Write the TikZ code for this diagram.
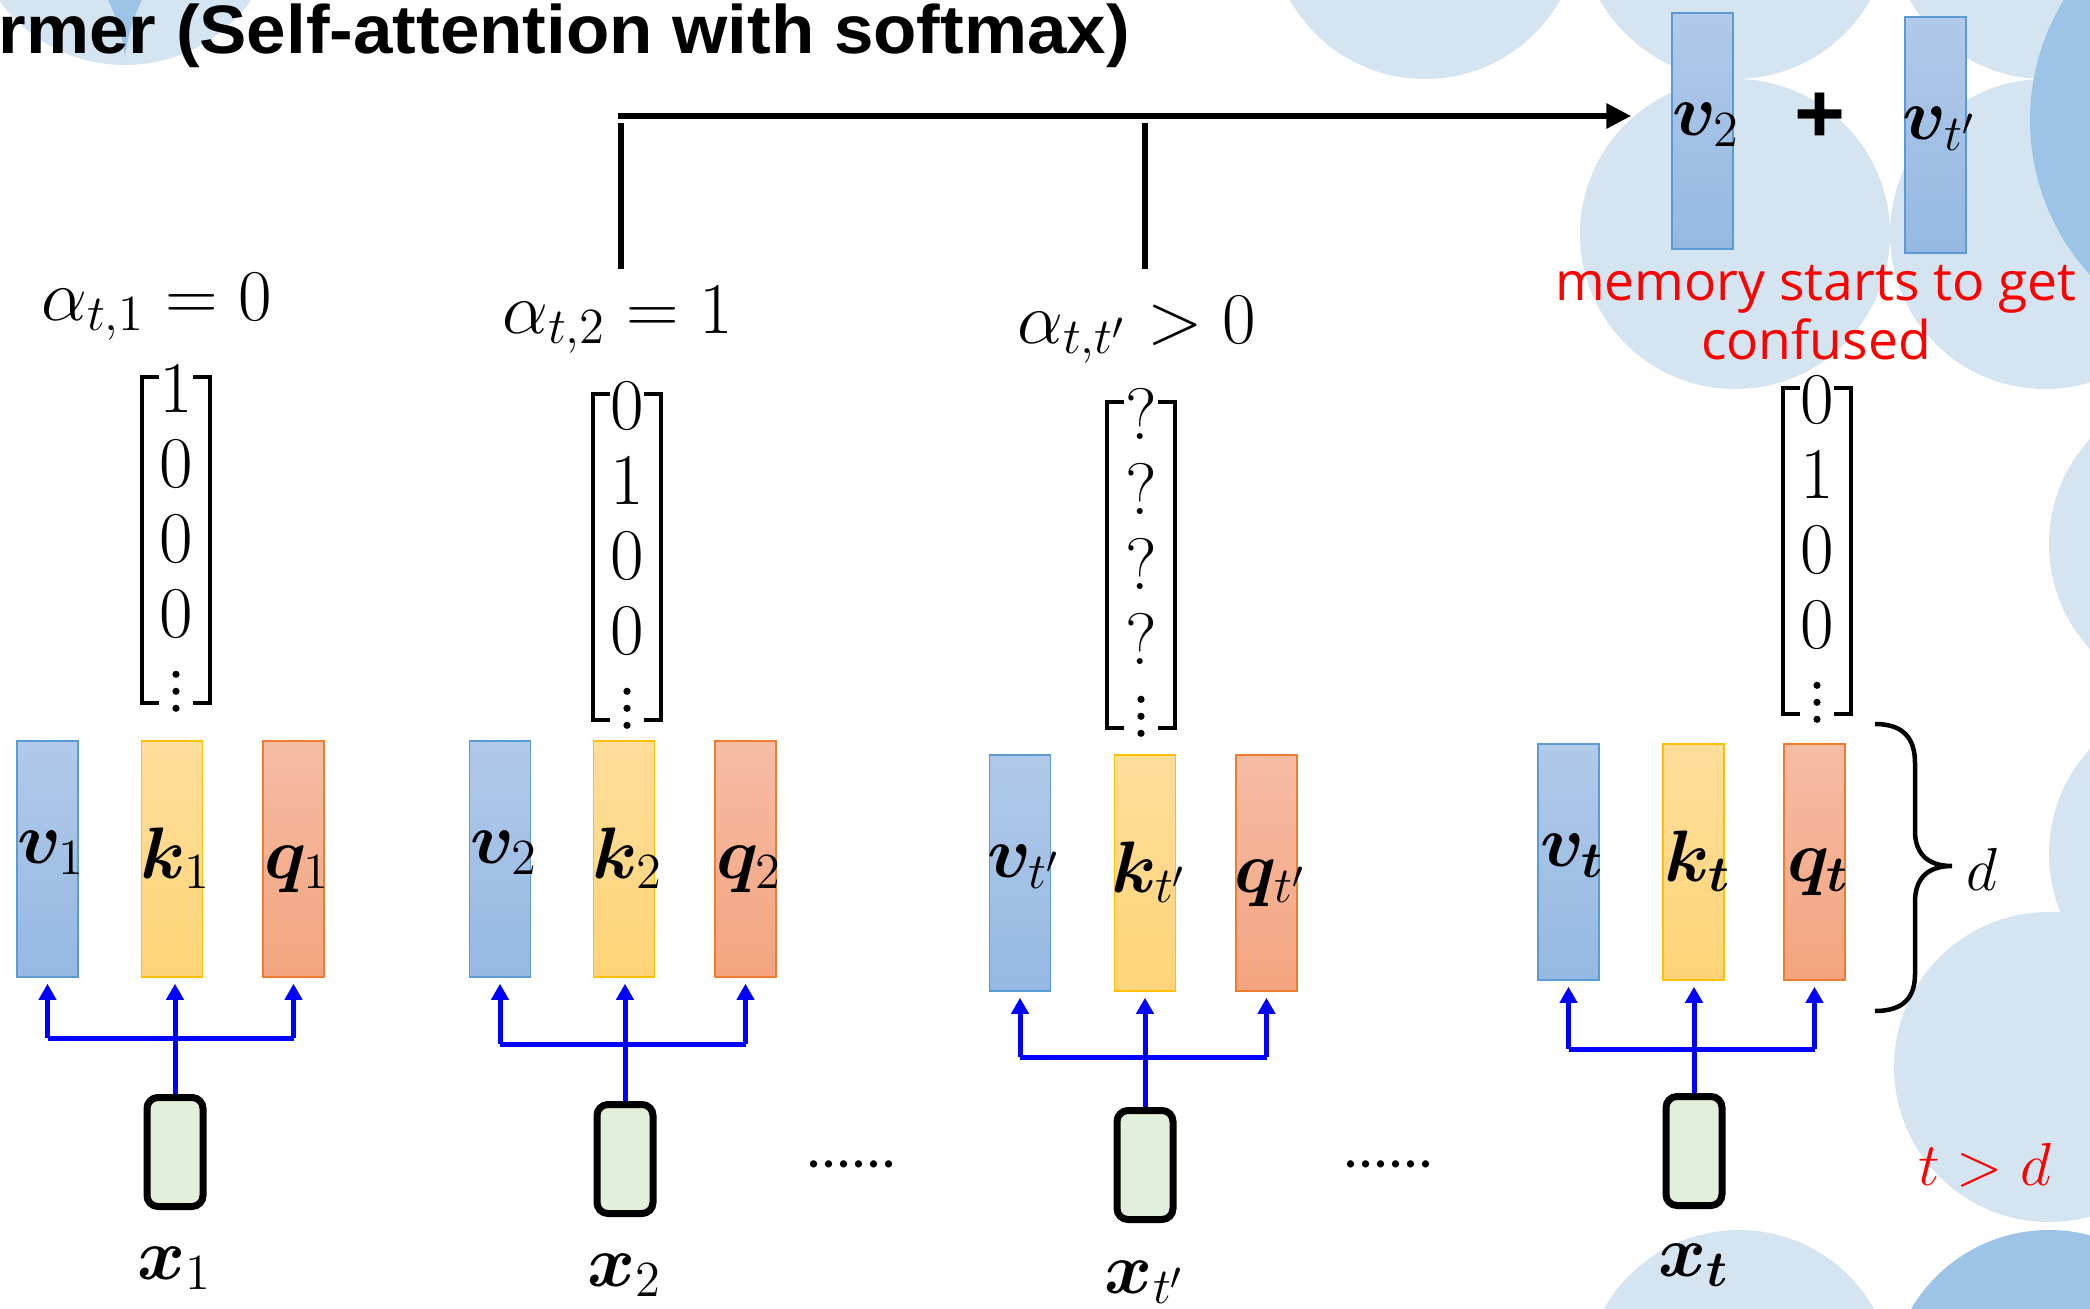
\documentclass[tikz,border=0pt]{standalone}
\usepackage{fontspec}
\usepackage{bm}
\usetikzlibrary{arrows.meta,calc}
\newfontfamily\titlefont{Liberation Sans}[FakeStretch=1.035]
\newfontfamily\notefont{Open Sans}
\newfontfamily\dotsfont{Carlito}

\definecolor{vtop}{HTML}{B1CAE9}
\definecolor{vbot}{HTML}{95B8E3}
\definecolor{vline}{HTML}{5B9BD5}
\definecolor{ktop}{HTML}{FFDE9B}
\definecolor{kbot}{HTML}{FFD478}
\definecolor{kline}{HTML}{FFC000}
\definecolor{qtop}{HTML}{F5BCA4}
\definecolor{qbot}{HTML}{F4A47F}
\definecolor{qline}{HTML}{ED7D31}
\definecolor{xfill}{HTML}{E2EFDA}
\definecolor{bglight}{HTML}{D5E4F1}
\definecolor{bgdark}{HTML}{9DC3E6}
\definecolor{pureblue}{RGB}{0,0,255}
\definecolor{notered}{RGB}{255,0,0}

% label centred on a bar without widening it
\newcommand\barlab[1]{\makebox[0pt]{\hspace{0.8mm}$#1$}}

\tikzset{
  bar/.style={line width=0.15mm, minimum width=6.1mm, minimum height=23.6mm,
    inner sep=0pt, font=\fontsize{21.5}{23}\selectfont},
  vlab/.style={text height=1.9mm, text depth=1mm},
  klab/.style={text height=4.8mm, text depth=1mm},
  vbar/.style={bar, vlab, draw=vline, top color=vtop, bottom color=vbot},
  kbar/.style={bar, klab, draw=kline, top color=ktop, bottom color=kbot},
  qbar/.style={bar, klab, draw=qline, top color=qtop, bottom color=qbot},
  xbox/.style={draw=black, line width=0.7mm, fill=xfill, rounded corners=1.1mm,
    minimum width=5.6mm, minimum height=10.9mm, inner sep=0pt},
  xlab/.style={anchor=base, inner sep=0pt, font=\fontsize{22}{24}\selectfont},
  feed/.style={draw=pureblue, line width=0.5mm},
  feedarrow/.style={feed, -{Triangle[length=1.6mm, width=1.7mm]}},
  brk/.style={draw=black, line width=0.42mm, line cap=rect},
  mbox/.style={minimum width=6.6mm, minimum height=32.4mm, inner sep=0pt},
  entry/.style={inner sep=0pt, font=\fontsize{19.5}{22}\selectfont},
  alab/.style={anchor=base west, inner sep=0pt, font=\fontsize{22}{24}\selectfont},
  link/.style={draw=black, line width=0.6mm},
  note/.style={anchor=base, inner sep=0pt, text=notered,
    font=\notefont\fontsize{15.2}{17.6}\selectfont},
  etc/.style={anchor=base west, inner sep=0pt, font=\dotsfont\fontsize{17}{20}\selectfont},
}

% a column vector in brackets: #1 name, #2 centre x, #3 top y, #4..#7 entries
\newcommand\colvec[7]{%
  \node[mbox] (#1) at (#2,#3+162) {};
  \draw[brk] ($(#1.north west)+(15,0)$) -- (#1.north west) -- (#1.south west) -- ($(#1.south west)+(15,0)$);
  \draw[brk] ($(#1.north east)+(-15,0)$) -- (#1.north east) -- (#1.south east) -- ($(#1.south east)+(-15,0)$);
  \node[entry] (#1-1) at ($(#1.north)+(0,12)$) {$#4$};
  \node[entry] (#1-2) at ($(#1.north)+(0,87)$) {$#5$};
  \node[entry] (#1-3) at ($(#1.north)+(0,162)$) {$#6$};
  \node[entry] (#1-4) at ($(#1.north)+(0,237)$) {$#7$};
  \foreach \dy in {297,314,331} \fill ($(#1.north)+(0,\dy)$) circle (3.6);
}

% value, key and query vectors fed by one input token
\newcommand\kvq[3]{\def\gid{#1}\def\gy{#2}\def\gb{#3}\kvqrest}
\newcommand\kvqrest[7]{%
  \node[vbar] (v\gid) at (#5,\gy) {\barlab{\bm{v}_{#3}}};
  \node[kbar] (k\gid) at (#6,\gy) {\barlab{\bm{k}_{#3}}};
  \node[qbar] (q\gid) at (#7,\gy) {\barlab{\bm{q}_{#3}}};
  \node[xbox] (x\gid) at (#1,#2) {};
  \node[xlab] (xl\gid) at (#1,#4) {$\bm{x}_{#3}$};
  \path (0,\gb) coordinate (br\gid);
  \draw[feed] (v\gid.south |- br\gid) -- (q\gid.south |- br\gid);
  \draw[feedarrow, shorten >=0.6mm] (x\gid.north) -- (x\gid.north |- k\gid.south);
  \draw[feedarrow, shorten >=0.6mm] (v\gid.south |- br\gid) -- (v\gid.south);
  \draw[feedarrow, shorten >=0.6mm] (q\gid.south |- br\gid) -- (q\gid.south);
}

\begin{document}
\begin{tikzpicture}[x=0.1mm, y=-0.1mm]
\useasboundingbox (0,0) rectangle (2090,1309);
\fill[white] (0,0) rectangle (2090,1309);

% decorative circles of the slide background
\begin{scope}
  \clip (0,0) rectangle (2090,1309);
  \fill[bglight] (125,-90) circle (155);
  \begin{scope}
    \clip (125,-90) circle (155);
    \fill[bgdark] (108,0) .. controls (118,20) and (123,40) .. (125,57)
      .. controls (127,40) and (132,20) .. (142,0) -- cycle;
  \end{scope}
  \foreach \cx/\cy in {1425/-76, 1735/-76, 2045/-76, 1735/234, 2045/234,
                       2204/544, 2204/854, 2049/1067, 1739/1385}
    \fill[bglight] (\cx,\cy) circle (155);
  \fill[bgdark] (2260,120) circle (230);
  \fill[bgdark] (2049,1390) circle (160);
\end{scope}

% title
\node[anchor=base west, inner sep=0pt, font=\titlefont\bfseries\fontsize{19.5}{24}\selectfont]
  (title) at (-2,53) {rmer (Self-attention with softmax)};

% attention weights
\node[alab] (a1) at (41,320) {$\alpha_{t,1} = 0$};
\node[alab] (a2) at (502,333) {$\alpha_{t,2} = 1$};
\node[alab] (a3) at (1017,343) {$\alpha_{t,t'} > 0$};

% weighted sum of the selected values
\node[vbar] (v2top) at (1702.5,131) {\barlab{\bm{v}_{2}}};
\node[vbar] (vttop) at (1935.5,135) {\barlab{\bm{v}_{t'}}};
\node[inner sep=0pt, font=\titlefont\bfseries\fontsize{24}{26}\selectfont] (plus) at (1820,118) {+};
\coordinate (j2a) at (621,123);
\coordinate (j2b) at (621,269);
\coordinate (j3a) at (1145,123);
\coordinate (j3b) at (1145,269);
\coordinate (hs) at (618,116);
\draw[link] (j2a) -- (j2b);
\draw[link] (j3a) -- (j3b);
\draw[link, -{Triangle[length=2.5mm, width=2.4mm]}, shorten >=4mm] (hs) -- (hs -| v2top.west);

\node[note] (note1) at (1816,300) {memory starts to get};
\node[note] (note2) at (1816,359) {confused};

% one-hot / unknown attention vectors
\colvec{m1}{176}{378}{1}{0}{0}{0}
\colvec{m2}{627}{395}{0}{1}{0}{0}
\colvec{m3}{1141}{403}{?}{?}{?}{?}
\colvec{m4}{1817}{389}{0}{1}{0}{0}

% token columns
\kvq{1}{859}{1038}{175}{1152}{1}{1279}{47.5}{172}{293.5}
\kvq{2}{859}{1044}{625}{1159}{2}{1286}{500}{624}{745.5}
\kvq{3}{873}{1057}{1145}{1165}{t'}{1293}{1020}{1145}{1266.5}
\kvq{4}{862}{1049}{1694}{1151}{\bm{t}}{1276}{1568.5}{1693.5}{1814.5}

\node[etc] (dots1) at (806,1167) {......};
\node[etc] (dots2) at (1343,1167) {......};

% dimension brace
\draw[line width=0.45mm] (1875,724) .. controls (1905,724) and (1915,740) .. (1915,763)
  -- (1915,831) .. controls (1915,852) and (1926,866) .. (1952,866)
  .. controls (1926,866) and (1915,880) .. (1915,902)
  -- (1915,974) .. controls (1915,996) and (1905,1011) .. (1875,1011);
\node[anchor=base west, inner sep=0pt, font=\fontsize{18}{20}\selectfont] (dlab) at (1966,890) {$d$};
\node[anchor=base west, inner sep=0pt, text=notered, font=\fontsize{19}{21}\selectfont]
  (cond) at (1918,1185) {$t > d$};
\end{tikzpicture}
\end{document}
